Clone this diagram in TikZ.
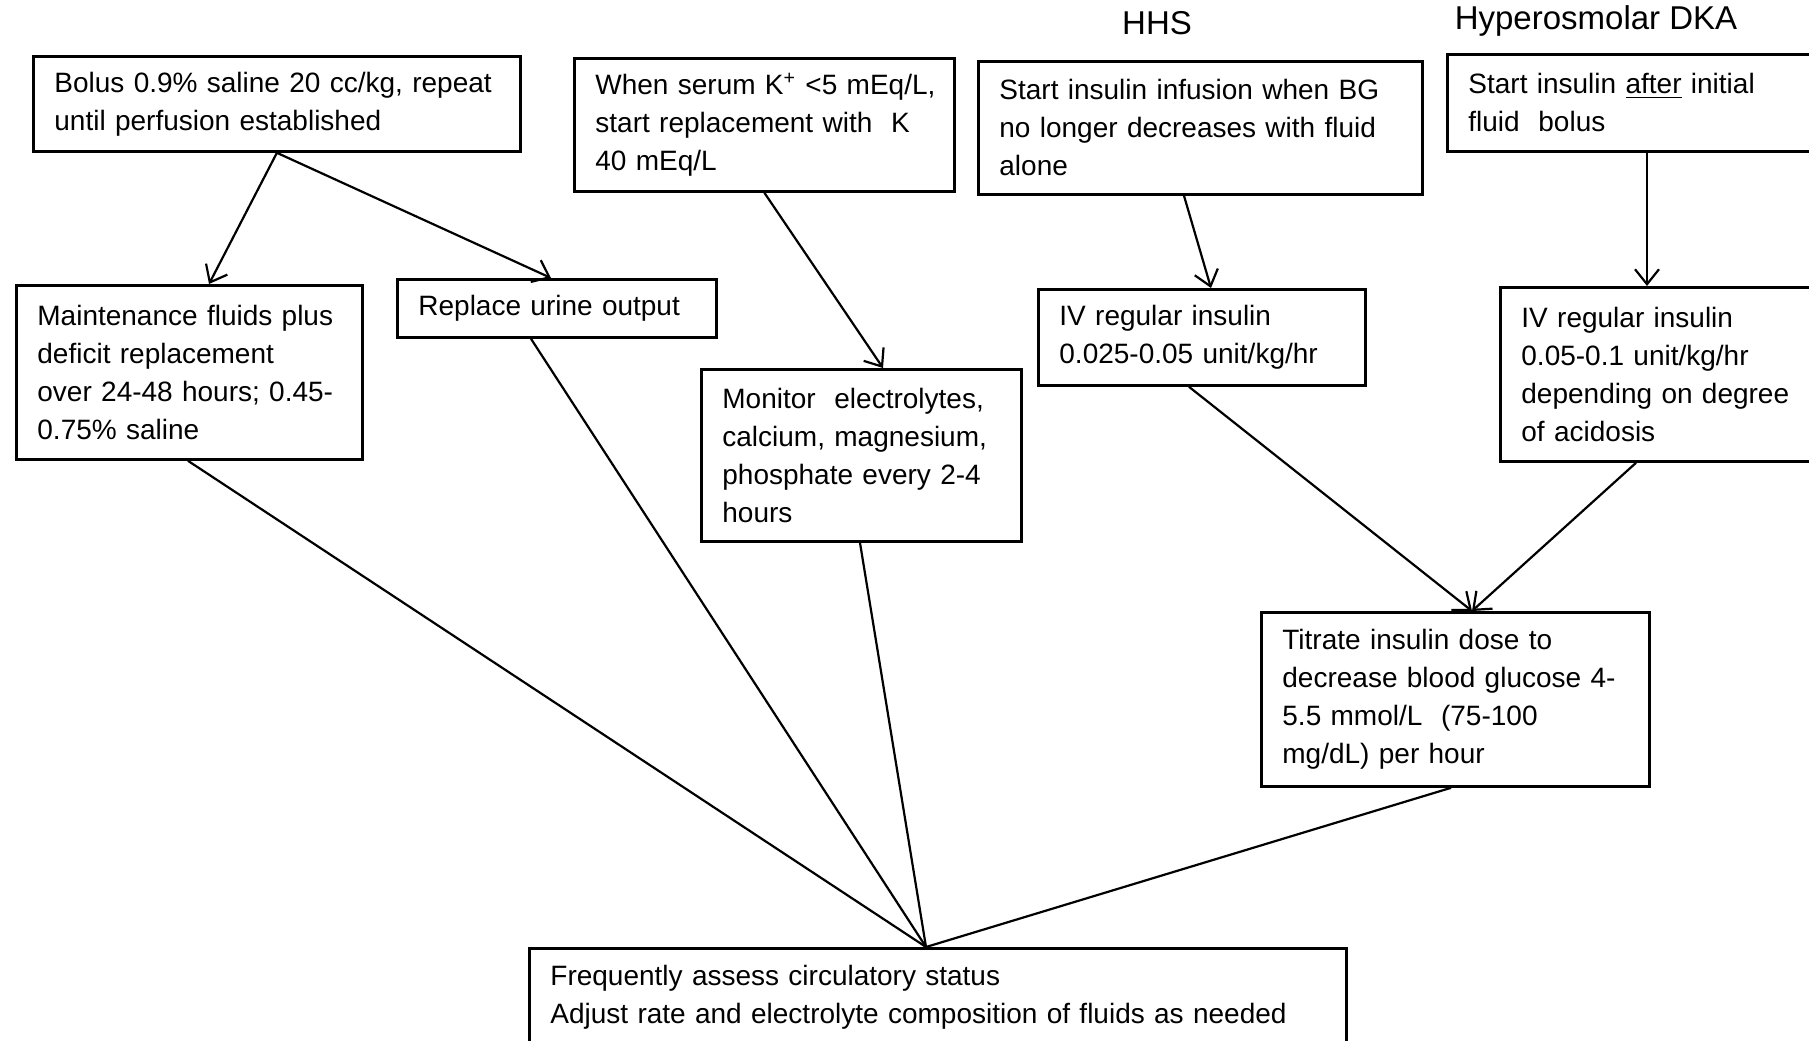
\documentclass[tikz,border=0pt]{standalone}
\usepackage{fontspec}
\setmainfont{Liberation Sans}
\usetikzlibrary{arrows.meta,calc}
\begin{document}
\begin{tikzpicture}[x=0.5pt,y=-0.5pt,
  box/.style={draw, line width=1.4pt, anchor=north west, inner xsep=10.5pt, inner ysep=0pt, align=left, font=\fontsize{14}{19}\selectfont},
  title/.style={font=\fontsize{16.5}{20}\selectfont, inner sep=0pt},
  arr/.style={line width=1.1pt, -{Straight Barb[length=7.5pt,width=12pt]}},
  link/.style={line width=1.1pt}]
\useasboundingbox (0,0) rectangle (1809,1040);
\clip (0,0) rectangle (1809,1040);
\fill[white] (0,0) rectangle (1809,1040);

\node[title] (hhs) at (1157,23) {HHS};
\node[title] (dka) at (1596,21) {Hyperosmolar DKA};

\node[box, text width=222.5pt, minimum height=47.5pt] (bolus) at (32,55)
  {Bolus 0.9\% saline 20 cc/kg, repeat\\until perfusion established};
\node[box, text width=169pt, minimum height=66.5pt] (serum) at (573,57)
  {\mbox{When serum K\textsuperscript{+} <5 mEq/L,}\\start replacement with\ \ K\\40 mEq/L};
\node[box, text width=201pt, minimum height=66.5pt] (infusion) at (977,60)
  {Start insulin infusion when BG\\no longer decreases with fluid\\alone};
\node[box, text width=171pt, minimum height=48.5pt] (after) at (1446,53)
  {Start insulin \underline{after} initial\\fluid\ \ bolus};
\node[box, text width=152pt, minimum height=87pt] (maint) at (15,284)
  {Maintenance fluids plus\\deficit replacement\\over 24-48 hours; 0.45-\\0.75\% saline};
\node[box, text width=138.5pt, minimum height=29pt] (urine) at (396,278)
  {Replace urine output};
\node[box, text width=139pt, minimum height=86pt] (monitor) at (700,368)
  {Monitor\ \ electrolytes,\\calcium, magnesium,\\phosphate every 2-4\\hours};
\node[box, text width=142.5pt, minimum height=48pt] (ivhhs) at (1037,288)
  {IV regular insulin\\0.025-0.05 unit/kg/hr};
\node[box, text width=144.5pt, minimum height=87pt] (ivdka) at (1499,286)
  {IV regular insulin\\0.05-0.1 unit/kg/hr\\depending on degree\\of acidosis};
\node[box, text width=173pt, minimum height=87pt] (titrate) at (1260,611)
  {Titrate insulin dose to\\decrease blood glucose 4-\\5.5 mmol/L\ \ (75-100\\mg/dL) per hour};
\node[box, text width=387.5pt, minimum height=49pt] (assess) at (528,947)
  {Frequently assess circulatory status\\Adjust rate and electrolyte composition of fluids as needed};

\draw[arr] (bolus.south) -- ($(maint.north west)+(194,0)$);
\draw[arr] (bolus.south) -- ($(urine.north west)+(155,0)$);
\draw[arr] (serum.south) -- ($(monitor.north west)+(183,0)$);
\draw[arr] ($(infusion.south west)+(207,0)$) -- ($(ivhhs.north west)+(174,0)$);
\draw[arr] ($(after.south west)+(201,0)$) -- ($(ivdka.north west)+(148,0)$);
\draw[arr] ($(ivhhs.south west)+(152,0)$) -- ($(titrate.north west)+(212,0)$);
\draw[arr] ($(ivdka.south west)+(137,0)$) -- ($(titrate.north west)+(212,0)$);

\coordinate (meet) at ($(assess.north west)+(398,0)$);
\draw[link] ($(maint.south west)+(173,0)$) -- (meet);
\draw[link] ($(urine.south west)+(135,0)$) -- (meet);
\draw[link] ($(monitor.south west)+(160,0)$) -- (meet);
\draw[link] ($(titrate.south west)+(191,0)$) -- (meet);
\end{tikzpicture}
\end{document}
